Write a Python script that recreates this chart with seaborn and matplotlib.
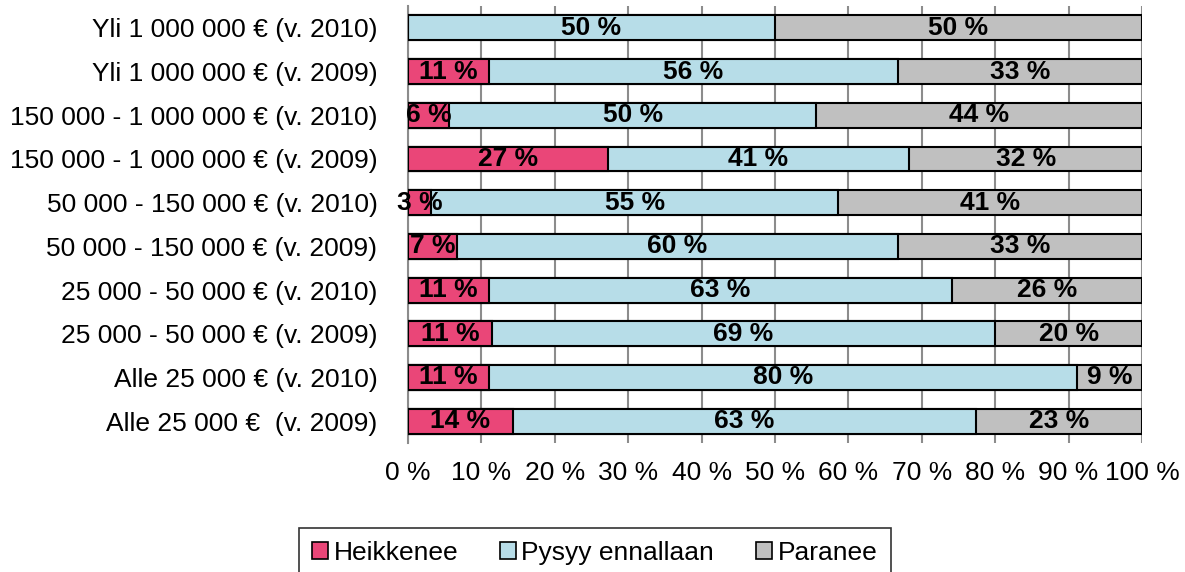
import numpy as np
import pandas as pd
import matplotlib
matplotlib.use("Agg")
import matplotlib.pyplot as plt
import seaborn as sns
from matplotlib.patches import Patch

# data, top row first (shares in %)
categories = [
    "Yli 1 000 000 € (v. 2010)",
    "Yli 1 000 000 € (v. 2009)",
    "150 000 - 1 000 000 € (v. 2010)",
    "150 000 - 1 000 000 € (v. 2009)",
    "50 000 - 150 000 € (v. 2010)",
    "50 000 - 150 000 € (v. 2009)",
    "25 000 - 50 000 € (v. 2010)",
    "25 000 - 50 000 € (v. 2009)",
    "Alle 25 000 € (v. 2010)",
    "Alle 25 000 €  (v. 2009)",
]
heikkenee = [0.0, 11.1, 5.6, 27.2, 3.2, 6.7, 11.1, 11.4, 11.1, 14.3]
pysyy = [50.0, 55.6, 50.0, 41.1, 55.4, 60.0, 63.0, 68.6, 80.0, 63.1]
paranee = [50.0, 33.3, 44.4, 31.7, 41.4, 33.3, 25.9, 20.0, 8.9, 22.6]
series_names = ["Heikkenee", "Pysyy ennallaan", "Paranee"]
x_ticks = [0, 10, 20, 30, 40, 50, 60, 70, 80, 90, 100]

colors = ["#EA4678", "#B7DDE8", "#C0C0C0"]


def main():
    sns.set_theme(style="white")
    plt.rcParams["font.family"] = ["Liberation Sans", "DejaVu Sans"]
    plt.rcParams["text.color"] = "black"

    df = pd.DataFrame({
        "cat": categories,
        "h": heikkenee,
        "p": pysyy,
        "r": paranee,
    })
    df["c1"] = df["h"]
    df["c2"] = df["h"] + df["p"]
    df["c3"] = df["h"] + df["p"] + df["r"]

    fig = plt.figure(figsize=(11.85, 5.72), dpi=100)
    ax = fig.add_axes([0.3443, 0.2255, 0.6194, 0.764])

    # stacked bars drawn back to front (cumulative totals)
    for col, c in zip(["c3", "c2", "c1"], colors[::-1]):
        sns.barplot(data=df, x=col, y="cat", orient="h", color=c,
                    saturation=1, width=0.57, edgecolor="black",
                    linewidth=1.5, ax=ax, zorder=3)

    # segment labels
    for i in range(len(categories)):
        start = 0.0
        for vals in (heikkenee, pysyy, paranee):
            v = vals[i]
            if v > 0:
                ax.text(start + v / 2, i, f"{round(v)} %", ha="center",
                        va="center", fontsize=19, fontweight="bold",
                        color="black", zorder=5)
            start += v

    ax.set_xlim(0, 100)
    ax.set_ylim(len(categories) - 0.5, -0.5)
    ax.set_xticks(x_ticks)
    ax.set_xticklabels([f"{t} %" for t in x_ticks])
    ax.set_xlabel("")
    ax.set_ylabel("")
    ax.tick_params(axis="x", length=0, pad=13, labelsize=19, colors="black")
    ax.tick_params(axis="y", length=0, pad=22, labelsize=19, colors="black")
    ax.xaxis.grid(True, color="#8C8C8C", linewidth=1.5, zorder=0)
    ax.yaxis.grid(False)
    for side in ["top", "right", "bottom"]:
        ax.spines[side].set_visible(False)
    ax.spines["left"].set_color("#8C8C8C")
    ax.spines["left"].set_linewidth(1.5)
    ax.set_axisbelow(True)

    handles = [Patch(facecolor=c, edgecolor="black", linewidth=1.2)
               for c in colors]
    leg = fig.legend(handles, series_names, loc="upper center",
                     bbox_to_anchor=(0.502, 0.077), ncol=3, frameon=True,
                     fontsize=19, handlelength=0.6, handleheight=0.6,
                     handletextpad=0.2, columnspacing=1.6, borderpad=0.5,
                     borderaxespad=0, fancybox=False, labelcolor="black")
    leg.get_frame().set_edgecolor("black")
    leg.get_frame().set_linewidth(1.2)

    fig.savefig("out.png", dpi=100)


if __name__ == "__main__":
    main()
